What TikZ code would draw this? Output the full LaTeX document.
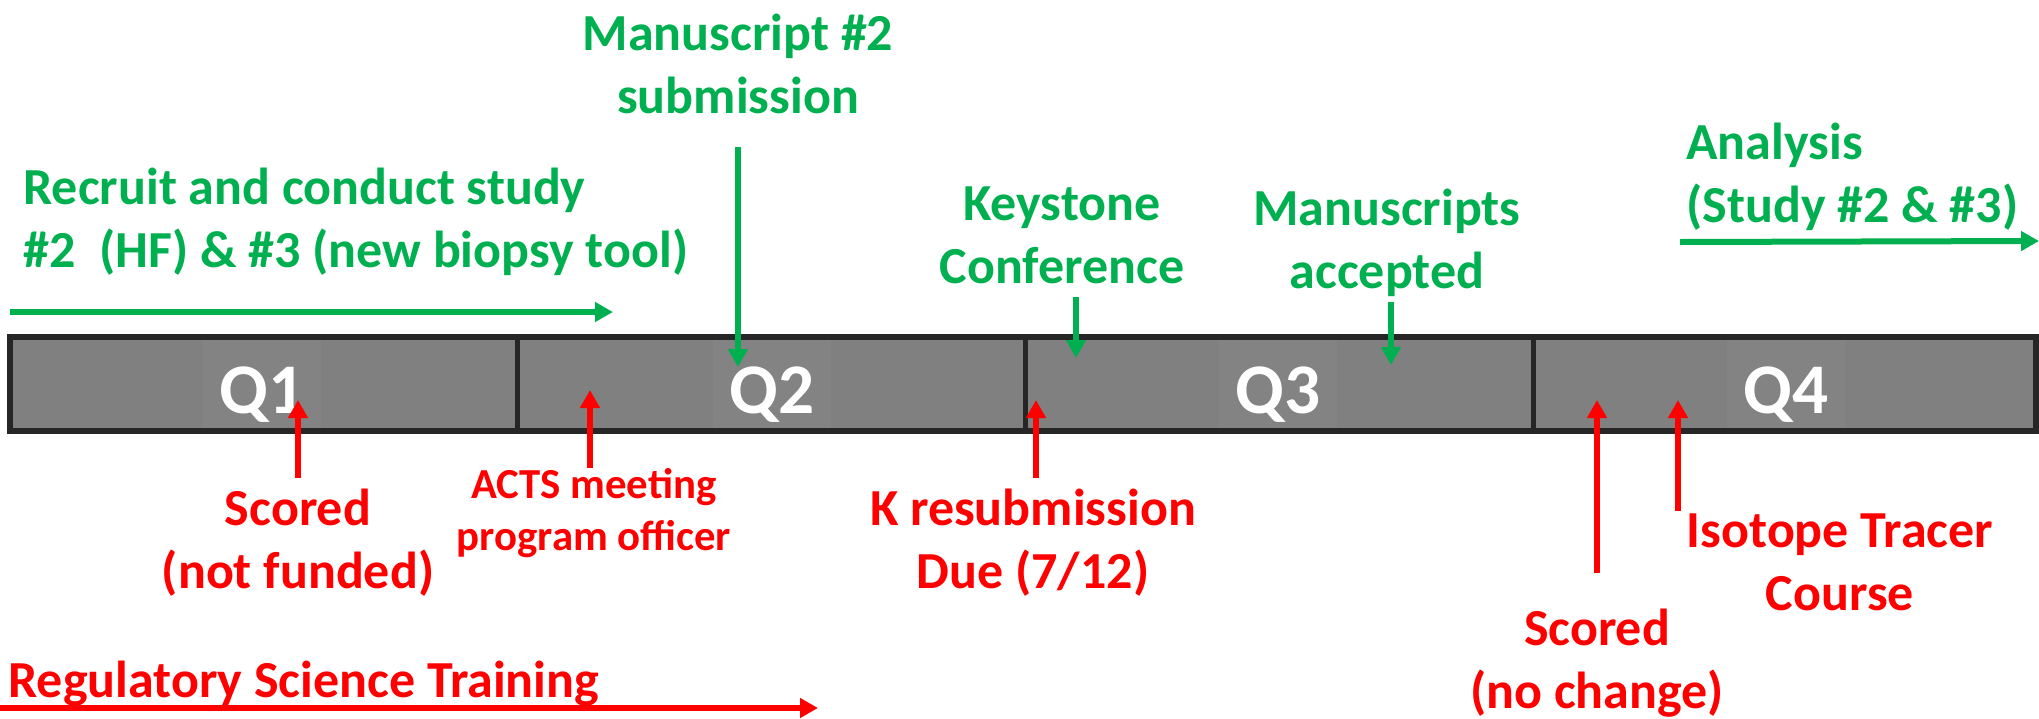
\documentclass[tikz,border=0pt]{standalone}
\usepackage{fontspec}
\setmainfont{Carlito}
\usetikzlibrary{arrows.meta}
\definecolor{ggreen}{HTML}{00B050}
\definecolor{rred}{HTML}{FF0000}
\definecolor{bargray}{HTML}{808080}
\definecolor{qgray}{HTML}{838383}
\definecolor{bardark}{HTML}{262626}
\newcommand{\twol}[2]{\begin{tabular}[t]{@{}c@{}}#1\\#2\end{tabular}}
\newcommand{\twoleft}[2]{\begin{tabular}[t]{@{}l@{}}#1\\#2\end{tabular}}
\begin{document}
\begin{tikzpicture}[x=0.5pt,y=-0.5pt,
  lbl/.style={inner sep=0pt, font=\bfseries\fontsize{26}{31.5}\selectfont},
  glbl/.style={lbl, text=ggreen},
  rlbl/.style={lbl, text=rred},
  rsmall/.style={inner sep=0pt, text=rred, font=\bfseries\fontsize{21.4}{26}\selectfont},
  qlbl/.style={fill=qgray, text=white, inner sep=0pt, minimum width=59pt, minimum height=44pt, text height=29pt, text depth=0pt, font=\bfseries\fontsize{35.6}{40}\selectfont},
  garrow/.style={draw=ggreen, line width=3pt, -{Triangle[length=9pt,width=9.5pt]}},
  rarrow/.style={draw=rred, line width=3pt, -{Triangle[length=9pt,width=9.5pt]}},
  barbox/.style={fill=bargray, draw=bardark, line width=3pt},
  divider/.style={draw=bardark, line width=2.5pt}]
\useasboundingbox[fill=white] (0,0) rectangle (2039,718);

% timeline bar
\draw[barbox] (10,337) rectangle (2036,431);
\draw[divider] (517,337) -- (517,431);
\draw[divider] (1025,337) -- (1025,431);
\draw[divider] (1533,337) -- (1533,431);

\node[qlbl] (q1) at (262,384) {Q1};
\node[qlbl] (q2) at (772,384) {Q2};
\node[qlbl] (q3) at (1278,384) {Q3};
\node[qlbl] (q4) at (1786,384) {Q4};

% green labels
\node[glbl, anchor=base west] (recruit) at (23,204) {\twoleft{Recruit and conduct study}{\#2~~(HF) \& \#3 (new biopsy tool)}};
\node[glbl, anchor=base] (manus) at (738,50) {\twol{Manuscript \#2}{submission}};
\node[glbl, anchor=base] (keystone) at (1062,220) {\twol{Keystone}{Conference}};
\node[glbl, anchor=base] (accepted) at (1387,225) {\twol{Manuscripts}{accepted}};
\node[glbl, anchor=base west] (analysis) at (1686,159) {\twoleft{Analysis}{(Study \#2 \& \#3)}};

% red labels
\node[rlbl, anchor=base] (scored1) at (298,525) {\twol{Scored}{(not funded)}};
\node[rsmall, anchor=base] (acts) at (594,498) {\twol{ACTS meeting}{program officer}};
\node[rlbl, anchor=base] (kres) at (1033,525) {\twol{K resubmission}{Due (7/12)}};
\node[rlbl, anchor=base] (scored2) at (1597,645) {\twol{Scored}{(no change)}};
\node[rlbl, anchor=base] (isotope) at (1840,547) {\twol{Isotope Tracer}{Course}};
\node[rlbl, anchor=base west] (reg) at (8,697) {Regulatory Science Training};

% arrow end points
\coordinate (g1s) at (10,312);   \coordinate (g1e) at (613,312);
\coordinate (g2s) at (738,147);  \coordinate (g2e) at (738,367);
\coordinate (g3s) at (1076,297); \coordinate (g3e) at (1076,358);
\coordinate (g4s) at (1391,302); \coordinate (g4e) at (1391,365);
\coordinate (g5s) at (1680,242); \coordinate (g5e) at (2039,241);
\coordinate (r1s) at (298,478);  \coordinate (r1e) at (298,400);
\coordinate (r2s) at (590,468);  \coordinate (r2e) at (590,390);
\coordinate (r3s) at (1036,478); \coordinate (r3e) at (1036,400);
\coordinate (r4s) at (1597,573); \coordinate (r4e) at (1597,400);
\coordinate (r5s) at (1678,511); \coordinate (r5e) at (1678,400);
\coordinate (r6s) at (0,708);    \coordinate (r6e) at (818,708);

\draw[garrow] (g1s) -- (g1e);
\draw[garrow] (g2s) -- (g2e);
\draw[garrow] (g3s) -- (g3e);
\draw[garrow] (g4s) -- (g4e);
\draw[garrow] (g5s) -- (g5e);
\draw[rarrow] (r1s) -- (r1e);
\draw[rarrow] (r2s) -- (r2e);
\draw[rarrow] (r3s) -- (r3e);
\draw[rarrow] (r4s) -- (r4e);
\draw[rarrow] (r5s) -- (r5e);
\draw[rarrow] (r6s) -- (r6e);
\end{tikzpicture}
\end{document}
